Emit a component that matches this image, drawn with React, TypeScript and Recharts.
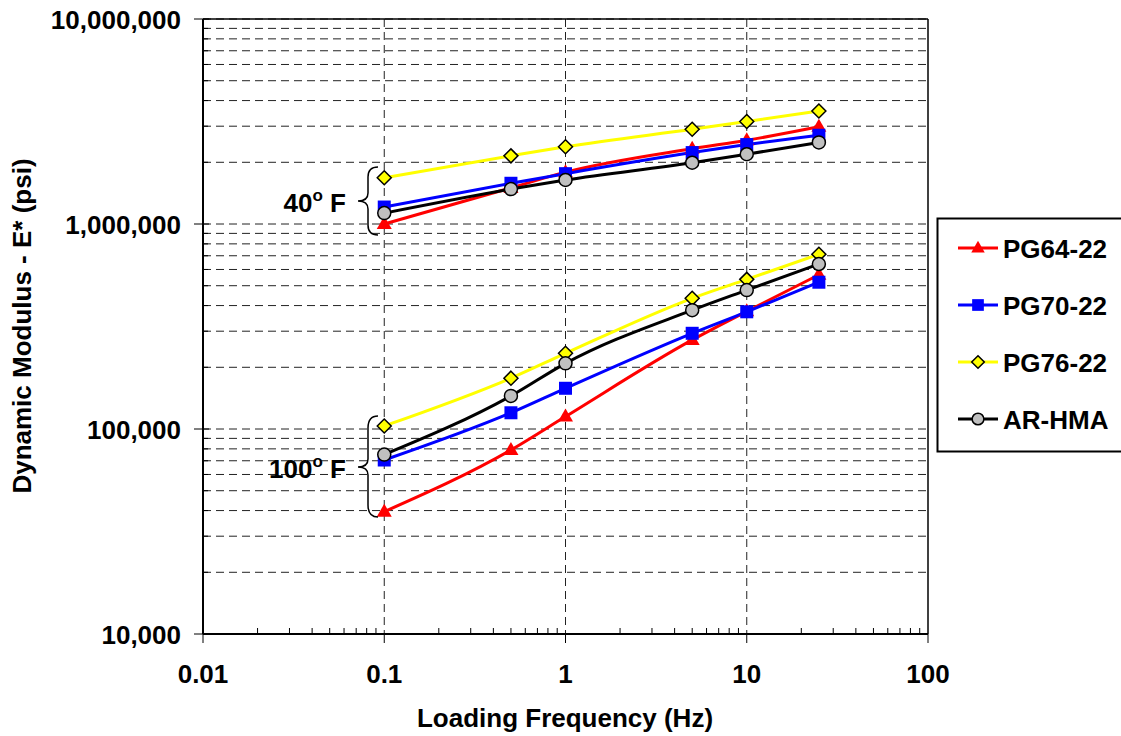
import React from "react";
import {
  LineChart,
  Line,
  XAxis,
  YAxis,
  CartesianGrid,
  ReferenceLine,
} from "recharts";

// loading frequencies (Hz)
const freqs = [0.1, 0.5, 1, 5, 10, 25];

// E* (psi) at 40 F
const pg64At40 = [1000000, 1500000, 1790000, 2330000, 2560000, 2980000];
const pg70At40 = [1210000, 1580000, 1760000, 2230000, 2440000, 2710000];
const pg76At40 = [1680000, 2150000, 2380000, 2900000, 3160000, 3560000];
const arAt40 = [1130000, 1480000, 1640000, 1990000, 2190000, 2500000];

// E* (psi) at 100 F
const pg64At100 = [39500, 79000, 115000, 272000, 375000, 565000];
const pg70At100 = [70600, 120000, 158000, 293000, 373000, 520000];
const pg76At100 = [103500, 177000, 234000, 434000, 537000, 712000];
const arAt100 = [75000, 145000, 209000, 380000, 476000, 638000];

const xMajor = [0.01, 0.1, 1, 10, 100];
const yMajor = [10000, 100000, 1000000, 10000000];
const seriesNames = ["PG64-22", "PG70-22", "PG76-22", "AR-HMA"];

// minor log ticks 2..9 inside each decade
const minors = (decades: number[]) =>
  decades.flatMap((d) => [2, 3, 4, 5, 6, 7, 8, 9].map((m) => m * d));
const xTicks = [...xMajor, ...minors([0.01, 0.1, 1, 10])].sort((a, b) => a - b);
const yTicks = [...yMajor, ...minors([10000, 100000, 1000000])].sort((a, b) => a - b);

const rows = freqs.map((f, i) => ({
  f,
  pg64_40: pg64At40[i],
  pg70_40: pg70At40[i],
  pg76_40: pg76At40[i],
  ar_40: arAt40[i],
  pg64_100: pg64At100[i],
  pg70_100: pg70At100[i],
  pg76_100: pg76At100[i],
  ar_100: arAt100[i],
}));

const FONT = "'Liberation Sans', Arial, sans-serif";
const RED = "#FF0000";
const BLUE = "#0000FF";
const YELLOW = "#FFFF00";

const triangle = (cx: number, cy: number, s = 1) => (
  <polygon
    points={`${cx},${cy - 8 * s} ${cx - 7.5 * s},${cy + 5 * s} ${cx + 7.5 * s},${cy + 5 * s}`}
    fill={RED}
  />
);
const square = (cx: number, cy: number, s = 1) => (
  <rect x={cx - 6.5 * s} y={cy - 6.5 * s} width={13 * s} height={13 * s} fill={BLUE} />
);
const diamond = (cx: number, cy: number, s = 1) => (
  <polygon
    points={`${cx},${cy - 7 * s} ${cx + 7 * s},${cy} ${cx},${cy + 7 * s} ${cx - 7 * s},${cy}`}
    fill={YELLOW}
    stroke="#000"
    strokeWidth={1.5}
  />
);
const circle = (cx: number, cy: number, s = 1) => (
  <circle cx={cx} cy={cy} r={6.5 * s} fill="#C0C0C0" stroke="#000" strokeWidth={1.5} />
);

const markers = [triangle, square, diamond, circle];
const colors = [RED, BLUE, YELLOW, "#000000"];
const keys = ["pg64", "pg70", "pg76", "ar"];

const makeDot = (idx: number, id: string) => (props: any) => {
  const { cx, cy, index } = props;
  if (cx == null || cy == null) return <g key={`${id}-${index}`} />;
  return <g key={`${id}-${index}`}>{markers[idx](cx, cy)}</g>;
};

const fmt = (v: number) => v.toLocaleString("en-US");

const YTick = (props: any) => {
  const { x, y, payload } = props;
  if (!yMajor.includes(payload.value)) {
    return <line x1={x} x2={x + 5} y1={y} y2={y} stroke="#000" strokeWidth={1} />;
  }
  return (
    <g>
      <line x1={x - 9} x2={x + 6} y1={y} y2={y} stroke="#000" strokeWidth={1} />
      <text
        x={x - 22}
        y={y + 10}
        textAnchor="end"
        fontFamily={FONT}
        fontWeight="bold"
        fontSize={26}
        fill="#000"
      >
        {fmt(payload.value)}
      </text>
    </g>
  );
};

const XTick = (props: any) => {
  const { x, y, payload } = props;
  if (!xMajor.includes(payload.value)) {
    return <line x1={x} x2={x} y1={y - 6} y2={y} stroke="#000" strokeWidth={1} />;
  }
  return (
    <g>
      <line x1={x} x2={x} y1={y} y2={y + 9} stroke="#000" strokeWidth={1} />
      <text
        x={x}
        y={y + 49}
        textAnchor="middle"
        fontFamily={FONT}
        fontWeight="bold"
        fontSize={26}
        fill="#000"
      >
        {String(payload.value)}
      </text>
    </g>
  );
};

const labelStyle = {
  fontFamily: FONT,
  fontWeight: "bold" as const,
  fontSize: 26,
  fill: "#000",
};

const App = () => {
  return (
    <div style={{ position: "absolute", left: 0, top: 0, width: 1121, height: 736 }}>
      <LineChart
        width={1121}
        height={736}
        data={rows}
        margin={{ top: 19, right: 193, bottom: 0, left: 0 }}
      >
        <CartesianGrid
          horizontalValues={yTicks}
          verticalValues={[0.1, 1, 10]}
          stroke="#222"
          strokeDasharray="8 5"
          strokeWidth={1}
        />
        <XAxis
          dataKey="f"
          type="number"
          scale="log"
          domain={[0.01, 100]}
          ticks={xTicks}
          interval={0}
          tickSize={0}
          tickMargin={0}
          tickLine={false}
          axisLine={{ stroke: "#000", strokeWidth: 2 }}
          tick={<XTick />}
          height={102}
          allowDataOverflow
        />
        <YAxis
          type="number"
          scale="log"
          domain={[10000, 10000000]}
          ticks={yTicks}
          interval={0}
          tickSize={0}
          tickMargin={0}
          tickLine={false}
          axisLine={{ stroke: "#000", strokeWidth: 2 }}
          tick={<YTick />}
          width={203}
          allowDataOverflow
        />
        <ReferenceLine y={10000000} stroke="#000" strokeWidth={1.5} />
        <ReferenceLine x={100} stroke="#000" strokeWidth={1.5} />
        {keys.flatMap((k, i) =>
          ["40", "100"].map((t) => (
            <Line
              key={`${k}_${t}`}
              dataKey={`${k}_${t}`}
              type="monotone"
              stroke={colors[i]}
              strokeWidth={3}
              dot={makeDot(i, `${k}_${t}`)}
              activeDot={false}
              isAnimationActive={false}
            />
          ))
        )}
      </LineChart>

      <svg
        width={1121}
        height={736}
        style={{ position: "absolute", left: 0, top: 0, pointerEvents: "none" }}
      >
        {/* axis titles */}
        <text x={565} y={727} textAnchor="middle" {...labelStyle}>
          Loading Frequency (Hz)
        </text>
        <text
          x={31}
          y={326}
          textAnchor="middle"
          transform="rotate(-90, 31, 326)"
          {...labelStyle}
        >
          Dynamic Modulus - E* (psi)
        </text>

        {/* temperature annotations */}
        <path
          d="M378,167 Q368,167 368,177 L368,193 Q368,201 358,201 Q368,201 368,209 L368,225 Q368,235 378,235"
          fill="none"
          stroke="#000"
          strokeWidth={1.5}
        />
        <text x={346} y={212} textAnchor="end" {...labelStyle}>
          40
          <tspan fontSize={17} dy={-11}>o</tspan>
          <tspan dy={11}> F</tspan>
        </text>
        <path
          d="M378,416 Q368,416 368,428 L368,459 Q368,467 358,467 Q368,467 368,475 L368,505 Q368,517 378,517"
          fill="none"
          stroke="#000"
          strokeWidth={1.5}
        />
        <text x={346} y={478} textAnchor="end" {...labelStyle}>
          100
          <tspan fontSize={17} dy={-11}>o</tspan>
          <tspan dy={11}> F</tspan>
        </text>

        {/* legend */}
        <rect x={937.5} y={218.5} width={200} height={233} fill="#fff" stroke="#000" strokeWidth={2} />
        {seriesNames.map((name, i) => {
          const ry = 248 + i * 57;
          return (
            <g key={name}>
              <line x1={958} x2={998} y1={ry} y2={ry} stroke={colors[i]} strokeWidth={3} />
              {markers[i](978, ry, 0.9)}
              <text x={1003} y={ry + 9.5} {...labelStyle}>
                {name}
              </text>
            </g>
          );
        })}
      </svg>
    </div>
  );
};

export default App;
